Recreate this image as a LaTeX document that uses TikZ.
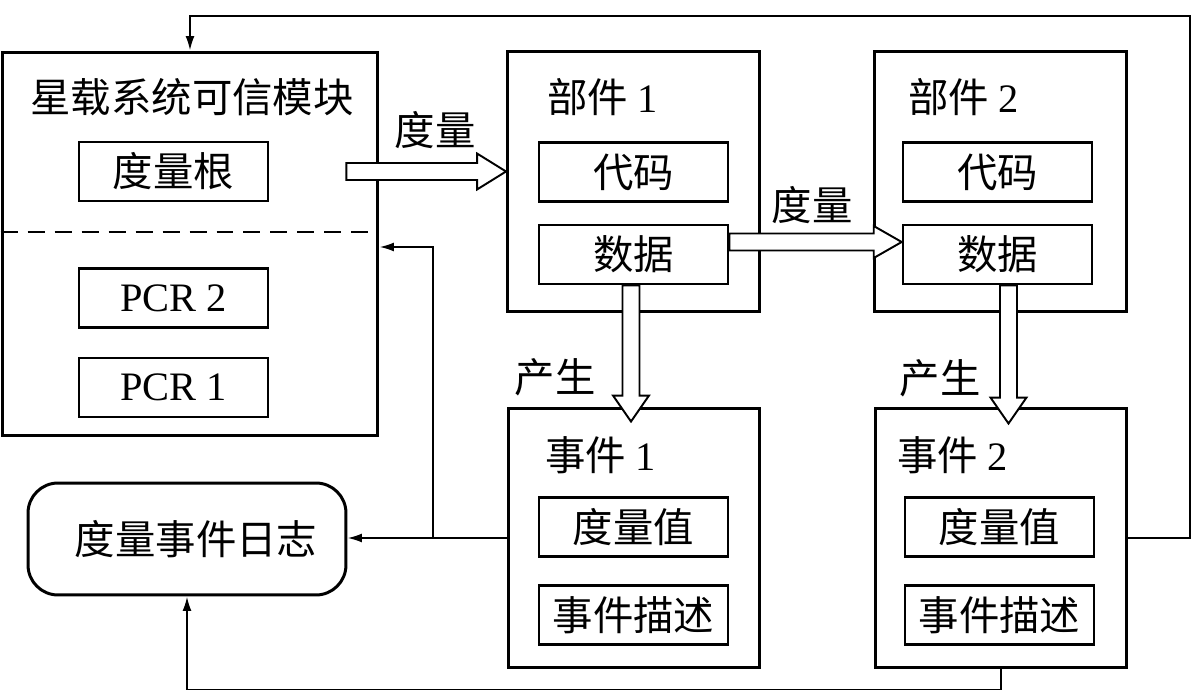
\documentclass[tikz,border=0pt]{standalone}
\usepackage{fontspec}
\setmainfont{Liberation Serif}
\newfontfamily\cjk{Noto Sans CJK SC}
\usetikzlibrary{calc,arrows.meta,positioning}

\tikzset{
  bigbox/.style={draw, line width=1.7pt, minimum width=5.04cm, minimum height=5.22cm},
  smallbox/.style={draw, line width=1.5pt, minimum width=3.78cm, minimum height=1.18cm, inner sep=0pt},
  lbl/.style={inner sep=0pt},
  conn/.style={line width=1.1pt, -{Latex[length=2.9mm,width=1.8mm]}},
  fat/.style={draw, fill=white, line width=1.1pt, line join=miter},
  divider/.style={line width=1.2pt, dash pattern=on 0.34cm off 0.2cm},
}

\begin{document}
\begin{tikzpicture}[x=0.02cm, y=-0.02cm, font=\cjk\fontsize{23}{27}\selectfont]
\useasboundingbox (0,0) rectangle (1200,692);

% trusted module
\node[bigbox, minimum width=7.52cm, minimum height=7.68cm] (mod) at (190,244) {};
\node[lbl] (modt) at (192,97) {星载系统可信模块};
\node[smallbox] (root) at (173.5,171.5) {度量根};
\node[smallbox] (pcr2) at (173.5,298) {\rmfamily PCR 2};
\node[smallbox] (pcr1) at (173.5,387.5) {\rmfamily PCR 1};
\draw[divider] ($(mod.west)+(0,0.24cm)$) -- ($(mod.east)+(0,0.24cm)$);

% parts
\node[bigbox] (p1) at (633.5,181.5) {};
\node[lbl, anchor=west] (p1t) at (547,97) {部件 {\rmfamily 1}};
\node[smallbox] (c1) at (633.5,172) {代码};
\node[smallbox] (d1) at (633.5,254.5) {数据};
\node[bigbox] (p2) at (1000.5,181.5) {};
\node[lbl, anchor=west] (p2t) at (908,97) {部件 {\rmfamily 2}};
\node[smallbox] (c2) at (997.5,172) {代码};
\node[smallbox] (d2) at (997.5,254.5) {数据};

% events
\node[bigbox, minimum height=5.2cm] (e1) at (634,538) {};
\node[lbl, anchor=west] (e1t) at (545,455) {事件 {\rmfamily 1}};
\node[smallbox] (v1) at (633.5,527) {度量值};
\node[smallbox] (s1) at (633.5,615) {事件描述};
\node[bigbox, minimum height=5.2cm] (e2) at (1001,538) {};
\node[lbl, anchor=west] (e2t) at (897,455) {事件 {\rmfamily 2}};
\node[smallbox] (v2) at (999.5,527) {度量值};
\node[smallbox] (s2) at (999.5,615) {事件描述};

% log
\node[draw, line width=1.7pt, rounded corners=0.6cm, minimum width=6.36cm, minimum height=2.24cm] (log) at (187,539) {\hspace*{0.36cm}度量事件日志};

% labels
\node[lbl] (mlbl) at (435,130) {度量};
\node[lbl] (dlbl) at (812,205) {度量};
\node[lbl] (glbl1) at (555,377) {产生};
\node[lbl] (glbl2) at (940,378) {产生};

% fat arrows
\coordinate (m0) at ($(root.east)+(1.54cm,0)$);
\coordinate (m1) at (p1.west |- root.east);
\draw[fat] ($(m0)+(0,0.17cm)$) -- ($(m1)+(-0.58cm,0.17cm)$) -- ($(m1)+(-0.58cm,0.36cm)$) -- (m1)
  -- ($(m1)+(-0.58cm,-0.36cm)$) -- ($(m1)+(-0.58cm,-0.17cm)$) -- ($(m0)+(0,-0.17cm)$) -- cycle;
\coordinate (da) at ($(d1.east)+(0,0.25cm)$);
\coordinate (db) at ($(d2.west)+(0,0.25cm)$);
\draw[fat] ($(da)+(0,0.17cm)$) -- ($(db)+(-0.56cm,0.17cm)$) -- ($(db)+(-0.56cm,0.32cm)$) -- (db)
  -- ($(db)+(-0.56cm,-0.32cm)$) -- ($(db)+(-0.56cm,-0.17cm)$) -- ($(da)+(0,-0.17cm)$) -- cycle;
\coordinate (ga) at ($(d1.south)+(-0.05cm,0)$);
\coordinate (gb) at ($(ga |- e1.north)+(0,-0.3cm)$);
\draw[fat] ($(ga)+(-0.17cm,0)$) -- ($(gb)+(-0.17cm,0.52cm)$) -- ($(gb)+(-0.36cm,0.52cm)$) -- (gb)
  -- ($(gb)+(0.36cm,0.52cm)$) -- ($(gb)+(0.17cm,0.52cm)$) -- ($(ga)+(0.17cm,0)$) -- cycle;
\coordinate (ha) at ($(d2.south)+(0.22cm,0)$);
\coordinate (hb) at ($(ha |- e2.north)+(0,-0.34cm)$);
\draw[fat] ($(ha)+(-0.17cm,0)$) -- ($(hb)+(-0.17cm,0.52cm)$) -- ($(hb)+(-0.36cm,0.52cm)$) -- (hb)
  -- ($(hb)+(0.36cm,0.52cm)$) -- ($(hb)+(0.17cm,0.52cm)$) -- ($(ha)+(0.17cm,0)$) -- cycle;

% thin connectors
\coordinate (tr) at (1190,16);
\draw[conn] (e2.east) -| (tr) -| (mod.north);
\draw[conn] (e1.west) -- (e1.west -| log.east);
\coordinate (fb) at ($(e1.west -| mod.east)+(1.08cm,0)$);
\draw[conn] (fb) |- ($(mod.east)+(0,-0.06cm)$);
\draw[conn] (e2.south) -- ++(0,-0.4cm) -| (log.south);
\end{tikzpicture}
\end{document}
